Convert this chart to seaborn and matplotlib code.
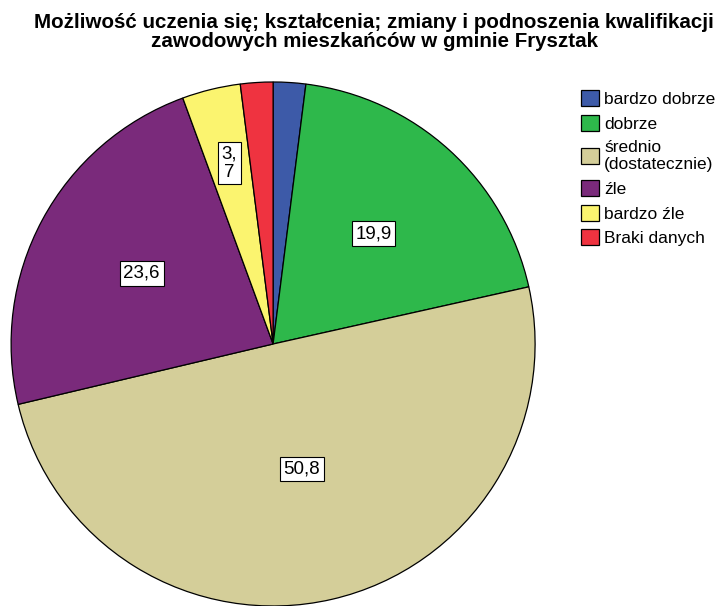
import numpy as np
import seaborn as sns
import matplotlib.pyplot as plt

sns.set_style("white")
plt.rcParams['font.family'] = ['Liberation Sans', 'DejaVu Sans']
plt.rcParams['text.color'] = 'black'

# kategorie i udzialy wycinkow (procent ogolu), etykiety = procent waznych
kategorie = ["bardzo dobrze", "dobrze", "średnio\n(dostatecznie)", "źle", "bardzo źle", "Braki danych"]
udzialy = [2.0, 19.5, 49.8, 23.1, 3.6, 2.0]
etykiety = ["", "19,9", "50,8", "23,6", "3,\n7", ""]
kolory = ["#3D5AA8", "#2EB84B", "#D4CE99", "#7A2A7B", "#FBF46F", "#EF3340"]
odleglosci = [0.6, 0.57, 0.49, 0.57, 0.71, 0.6]

fig = plt.figure(figsize=(7.2, 6.06), dpi=100)
ax = fig.add_axes([0.0153, 0.0, 0.728, 0.8647])

wedges, _ = ax.pie(udzialy, colors=kolory, startangle=90, counterclock=False, radius=1,
                   wedgeprops=dict(edgecolor="black", linewidth=0.9))
ax.set_xlim(-1, 1)
ax.set_ylim(-1, 1)
ax.set_aspect("equal")

# etykiety w bialych ramkach
for w, txt, r in zip(wedges, etykiety, odleglosci):
    if not txt:
        continue
    kat = np.deg2rad((w.theta1 + w.theta2) / 2)
    ax.text(r * np.cos(kat), r * np.sin(kat), txt, ha="center", va="center", fontsize=13.5,
            linespacing=1.05,
            bbox=dict(boxstyle="square,pad=0.2", facecolor="white", edgecolor="black", linewidth=0.8))

fig.legend(wedges, kategorie, loc="upper left", bbox_to_anchor=(0.797, 0.863), frameon=False,
           fontsize=12.5, handlelength=1.05, handleheight=1.05, handletextpad=0.3,
           labelspacing=0.45, borderaxespad=0)

fig.suptitle("Możliwość uczenia się; kształcenia; zmiany i podnoszenia kwalifikacji\n"
             "zawodowych mieszkańców w gminie Frysztak",
             x=0.52, y=0.978, fontsize=14.8, fontweight="bold", linespacing=1.0)

plt.savefig("out.png", dpi=100)
